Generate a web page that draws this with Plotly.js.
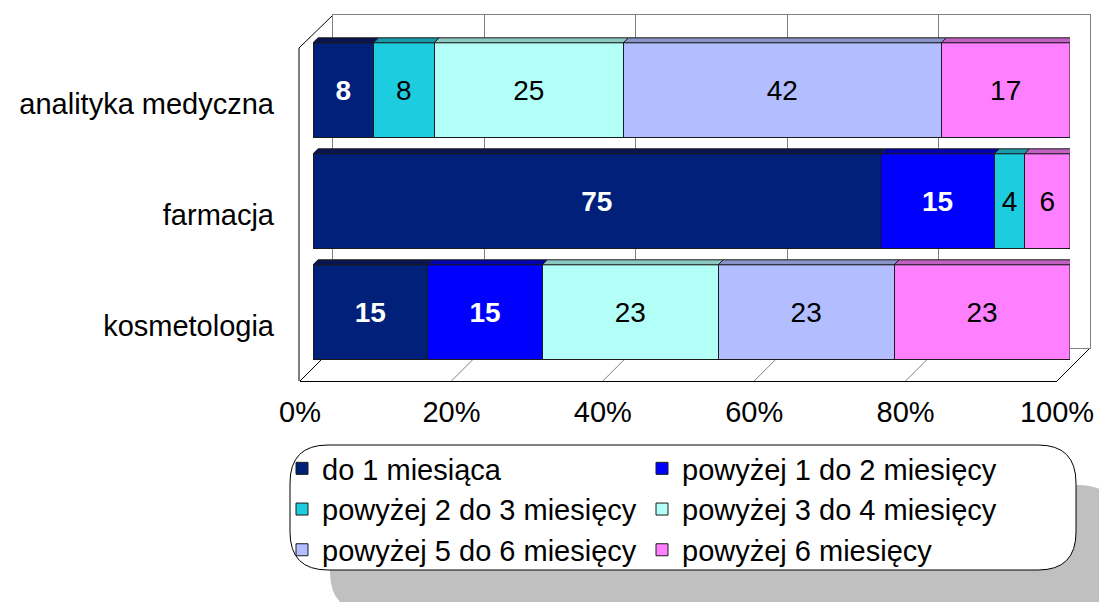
<!DOCTYPE html>
<html>
<head>
<meta charset="utf-8">
<script src="https://cdn.plot.ly/plotly-3.0.1.min.js"></script>
<style>html,body{margin:0;padding:0;background:#fff;}#chart{width:1099px;height:602px;}</style>
</head>
<body>
<div id="chart"></div>
<script>
// ---- data ----
const categories = ['analityka medyczna', 'farmacja', 'kosmetologia'];
const seriesNames = ['do 1 miesiąca', 'powyżej 1 do 2 miesięcy', 'powyżej 2 do 3 miesięcy',
                     'powyżej 3 do 4 miesięcy', 'powyżej 5 do 6 miesięcy', 'powyżej 6 miesięcy'];
const do1 = [8, 75, 15];
const pow1do2 = [null, 15, 15];
const pow2do3 = [8, 4, null];
const pow3do4 = [25, null, 23];
const pow5do6 = [42, null, 23];
const pow6 = [17, 6, 23];
const tickValues = [0, 20, 40, 60, 80, 100];
const tickLabels = ['0%', '20%', '40%', '60%', '80%', '100%'];

// ---- styles ----
const seriesValues = [do1, pow1do2, pow2do3, pow3do4, pow5do6, pow6];
const colors = ['#00207A', '#0000FF', '#1ECCE0', '#B2FFF8', '#B2BEFF', '#FF80FF'];
const topColors = ['#0A1450', '#0000B0', '#189AA8', '#8CC8C2', '#8A94C8', '#C060C0'];
const sideColor = '#7F3F80';
const labelColors = ['#FFFFFF', '#FFFFFF', '#000000', '#000000', '#000000', '#000000'];
const labelWeights = ['bold', 'bold', 'normal', 'normal', 'normal', 'normal'];
const legendColumn = ['legend', 'legend2', 'legend', 'legend2', 'legend', 'legend2'];
const FONT = 'Liberation Sans, Arial, sans-serif';

const W = 1099, H = 602;
const px = x => x / W;
const py = y => 1 - y / H;

// geometry (pixels)
const frontX0 = 300, span = 757, floorFrontY = 381;
const depth = 33;
const backX0 = frontX0 + depth, floorBackY = floorFrontY - depth, backTopY = 15;
const barX0 = 313;
const yTop = 34.5, yBot = 367.5;

const catOrder = categories.slice().reverse();

// back wall subplot (x/y) drawn first, tick axis (x2/y2), bars last (x3/y3)
const traces = [];
traces.push({type: 'scatter', x: [null], y: [null], xaxis: 'x', yaxis: 'y', showlegend: false, hoverinfo: 'skip'});
traces.push({type: 'scatter', x: [null], y: [null], xaxis: 'x2', yaxis: 'y2', showlegend: false, hoverinfo: 'skip'});
seriesValues.forEach((vals, k) => traces.push({
  type: 'bar',
  orientation: 'h',
  name: seriesNames[k],
  legend: legendColumn[k],
  y: categories,
  x: vals,
  text: vals.map(v => v == null ? '' : String(v)),
  textposition: 'inside',
  insidetextanchor: 'middle',
  textangle: 0,
  textfont: {family: FONT, size: 28, color: labelColors[k], weight: labelWeights[k]},
  marker: {color: colors[k], line: {color: '#1a1a1a', width: 1}},
  hoverinfo: 'skip',
  xaxis: 'x3', yaxis: 'y3'
}));

const shapes = [];
function roundRect(x0, y0, x1, y1, r) {
  const X = v => px(v), Y = v => py(v);
  return `M${X(x0 + r)},${Y(y0)} L${X(x1 - r)},${Y(y0)} Q${X(x1)},${Y(y0)} ${X(x1)},${Y(y0 + r)} ` +
         `L${X(x1)},${Y(y1 - r)} Q${X(x1)},${Y(y1)} ${X(x1 - r)},${Y(y1)} ` +
         `L${X(x0 + r)},${Y(y1)} Q${X(x0)},${Y(y1)} ${X(x0)},${Y(y1 - r)} ` +
         `L${X(x0)},${Y(y0 + r)} Q${X(x0)},${Y(y0)} ${X(x0 + r)},${Y(y0)} Z`;
}
// legend shadow and rounded box
shapes.push({type: 'path', xref: 'paper', yref: 'paper', layer: 'below', path: roundRect(330, 485, 1118, 612, 40),
  fillcolor: '#C0C0C0', line: {width: 0}});
shapes.push({type: 'path', xref: 'paper', yref: 'paper', layer: 'below', path: roundRect(290, 445, 1076, 570, 38),
  fillcolor: '#FFFFFF', line: {color: '#000000', width: 1}});

// left wall edges
shapes.push({type: 'line', xref: 'paper', yref: 'paper', layer: 'below',
  x0: px(frontX0 - 1), y0: py(floorFrontY), x1: px(frontX0 - 1), y1: py(backTopY + depth), line: {color: '#000', width: 1}});
shapes.push({type: 'line', xref: 'paper', yref: 'paper', layer: 'below',
  x0: px(frontX0 - 1), y0: py(backTopY + depth), x1: px(backX0), y1: py(backTopY), line: {color: '#000', width: 1}});
// floor diagonals at tick positions
tickValues.forEach(v => {
  const edge = (v === 0 || v === 100);
  shapes.push({type: 'line', xref: 'paper', yref: 'paper', layer: 'below',
    x0: px(backX0 + v / 100 * span), y0: py(floorBackY),
    x1: px(frontX0 + v / 100 * span), y1: py(floorFrontY),
    line: {color: edge ? '#000' : '#808080', width: 1}});
});

// 3D top faces of bar segments, computed from the data
const dx = 5 / span * 100;
const faceH = 5;
const bandPx = (yBot - yTop) / categories.length;
const barHalf = bandPx * 0.85 / 2;
categories.forEach((cat, ci) => {
  const idx = catOrder.indexOf(cat);
  const centerPx = yBot - (idx + 0.5) * bandPx;
  const topPx = centerPx - barHalf, botPx = centerPx + barHalf;
  const total = seriesValues.reduce((s, arr) => s + (arr[ci] || 0), 0);
  let cum = 0, lastEnd = 0;
  seriesValues.forEach((arr, k) => {
    const v = arr[ci];
    if (v == null) return;
    const a = cum / total * 100, b = (cum + v) / total * 100;
    cum += v;
    shapes.push({type: 'path', xref: 'x3', yref: 'paper', layer: 'above',
      path: `M${a},${py(topPx)} L${a + dx},${py(topPx - faceH)} L${b + dx},${py(topPx - faceH)} L${b},${py(topPx)} Z`,
      fillcolor: topColors[k], line: {color: '#1a1a1a', width: 1}});
    lastEnd = b;
  });
  shapes.push({type: 'path', xref: 'x3', yref: 'paper', layer: 'above',
    path: `M${lastEnd},${py(topPx)} L${lastEnd + dx},${py(topPx - faceH)} L${lastEnd + dx},${py(botPx - faceH)} L${lastEnd},${py(botPx)} Z`,
    fillcolor: sideColor, line: {color: '#1a1a1a', width: 1}});
});

const legendCommon = {orientation: 'v', xanchor: 'left', yanchor: 'top', traceorder: 'normal',
  itemwidth: 30, bgcolor: 'rgba(0,0,0,0)', borderwidth: 0, tracegroupgap: 0,
  font: {family: FONT, size: 29, color: '#000'}};

const layout = {
  width: W, height: H,
  margin: {l: 0, r: 0, t: 0, b: 0},
  paper_bgcolor: '#FFFFFF', plot_bgcolor: 'rgba(0,0,0,0)',
  barmode: 'stack', barnorm: 'percent', bargap: 0.15,
  font: {family: FONT, size: 28, color: '#000'},
  showlegend: true,
  // back wall
  xaxis: {domain: [px(backX0), px(backX0 + span)], anchor: 'y', range: [0, 100], tickvals: tickValues,
    showticklabels: false, showgrid: true, gridcolor: '#808080', gridwidth: 1, zeroline: false,
    showline: true, mirror: true, linecolor: '#808080', linewidth: 1, ticks: '', fixedrange: true},
  yaxis: {domain: [py(floorBackY), py(backTopY)], anchor: 'x', range: [0, 1], showticklabels: false,
    showgrid: false, zeroline: false, showline: true, mirror: true, linecolor: '#808080', linewidth: 1,
    ticks: '', fixedrange: true},
  // front floor edge with percent labels
  xaxis2: {domain: [px(frontX0), px(frontX0 + span)], anchor: 'y2', range: [0, 100],
    tickvals: tickValues, ticktext: tickLabels, showgrid: false, zeroline: false,
    showline: true, linecolor: '#000', linewidth: 1, ticks: '', ticklabelstandoff: 5,
    tickfont: {family: FONT, size: 29, color: '#000'}, fixedrange: true},
  yaxis2: {domain: [py(floorFrontY), py(backTopY)], anchor: 'x2', range: [0, 1], visible: false, fixedrange: true},
  // bars
  xaxis3: {domain: [px(barX0), px(barX0 + span)], anchor: 'y3', range: [0, 100], visible: false, fixedrange: true},
  yaxis3: {domain: [py(yBot), py(yTop)], anchor: 'x3', type: 'category', categoryorder: 'array', categoryarray: catOrder,
    range: [-0.5, 2.5], showgrid: false, zeroline: false, showline: false, ticks: '',
    ticklabelshift: 14, ticklabelstandoff: 38,
    tickfont: {family: FONT, size: 29, color: '#000'}, fixedrange: true},
  legend: Object.assign({x: px(282), y: py(443)}, legendCommon),
  legend2: Object.assign({x: px(642), y: py(443)}, legendCommon),
  shapes: shapes
};

Plotly.newPlot('chart', traces, layout, {displayModeBar: false, staticPlot: true});
</script>
</body>
</html>
